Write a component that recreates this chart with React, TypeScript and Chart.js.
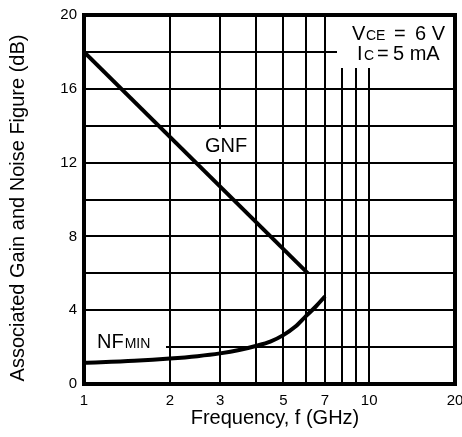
import React, { useEffect, useRef } from 'react';
import { Chart, registerables } from 'chart.js';

Chart.register(...registerables);

// ---- data ----
const gnfFreq = [1, 6.1];
const gnfGain = [18, 6];

const nfFreq = [1, 1.5, 2, 2.5, 3, 3.5, 4, 4.5, 5, 5.5, 6, 6.5, 7];
const nfMin = [1.15, 1.26, 1.38, 1.51, 1.66, 1.84, 2.06, 2.3, 2.65, 3.1, 3.68, 4.2, 4.75];

const xGridValues = [1, 2, 3, 4, 5, 6, 7, 8, 9, 10, 20];
const xTickLabels = [1, 2, 3, 5, 7, 10, 20];
const yGridValues = [0, 2, 4, 6, 8, 10, 12, 14, 16, 18, 20];
const yTickLabels = [0, 4, 8, 12, 16, 20];

const xTitle = 'Frequency, f (GHz)';
const yTitle = 'Associated Gain and Noise Figure (dB)';

const FONT = '"Liberation Sans", Arial, Helvetica, sans-serif';

const overlayPlugin = {
  id: 'overlay',
  beforeDatasetsDraw(chart: any) {
    const { ctx, chartArea: a } = chart;
    ctx.save();
    ctx.fillStyle = '#fff';
    // condition box (top right)
    ctx.fillRect(337, a.top + 2, a.right - 2 - 337, 68 - (a.top + 2));
    // GNF label box
    ctx.fillRect(200, 129, 52, 30);
    // NFmin label box
    ctx.fillRect(a.left + 2, 326, 166 - (a.left + 2), 31);

    ctx.fillStyle = '#000';
    ctx.textBaseline = 'alphabetic';
    ctx.textAlign = 'left';
    // VCE = 6 V
    ctx.font = `20px ${FONT}`;
    ctx.fillText('V', 352, 40);
    ctx.font = `14px ${FONT}`;
    ctx.fillText('CE', 366, 40);
    ctx.font = `20px ${FONT}`;
    ctx.fillText('=', 394, 40);
    ctx.fillText('6 V', 415, 40);
    // IC = 5 mA
    ctx.fillText('I', 357, 60);
    ctx.font = `14px ${FONT}`;
    ctx.fillText('C', 364, 60);
    ctx.font = `20px ${FONT}`;
    ctx.fillText('=', 377, 60);
    ctx.fillText('5 mA', 393, 60);

    // GNF label
    ctx.fillText('GNF', 205, 152);
    // NFmin label
    ctx.fillText('NF', 97, 348);
    const nfw = ctx.measureText('NF').width;
    ctx.font = `14px ${FONT}`;
    ctx.fillText('MIN', 97 + nfw + 1, 348);
    ctx.restore();
  },
  afterDatasetsDraw(chart: any) {
    const { ctx, chartArea: a } = chart;
    ctx.save();
    ctx.strokeStyle = '#000';
    ctx.lineWidth = 4;
    ctx.strokeRect(a.left, a.top, a.right - a.left, a.bottom - a.top);
    ctx.restore();
  },
  afterDraw(chart: any) {
    const { ctx } = chart;
    ctx.save();
    ctx.fillStyle = '#000';
    ctx.font = `20px ${FONT}`;
    ctx.textAlign = 'center';
    ctx.textBaseline = 'alphabetic';
    ctx.fillText(xTitle, 275, 424);
    ctx.translate(24, 208);
    ctx.rotate(-Math.PI / 2);
    ctx.fillText(yTitle, 0, 0);
    ctx.restore();
  },
};

export default function App() {
  const ref = useRef<HTMLCanvasElement | null>(null);

  useEffect(() => {
    if (!ref.current) return;
    const chart = new Chart(ref.current, {
      type: 'line',
      data: {
        datasets: [
          {
            label: 'GNF',
            data: gnfFreq.map((f, i) => ({ x: f, y: gnfGain[i] })),
            borderColor: '#000',
            borderWidth: 4,
            pointRadius: 0,
            fill: false,
          },
          {
            label: 'NFmin',
            data: nfFreq.map((f, i) => ({ x: f, y: nfMin[i] })),
            borderColor: '#000',
            borderWidth: 4,
            pointRadius: 0,
            cubicInterpolationMode: 'monotone',
            fill: false,
          },
        ],
      },
      options: {
        responsive: false,
        animation: false,
        devicePixelRatio: 1,
        layout: { padding: { left: 0, right: 7, top: 15, bottom: 0 } },
        plugins: { legend: { display: false }, tooltip: { enabled: false } },
        scales: {
          x: {
            type: 'logarithmic',
            min: 1,
            max: 20,
            afterBuildTicks: (s: any) => {
              s.ticks = xGridValues.map((v) => ({ value: v }));
            },
            afterFit: (s: any) => {
              s.height = 53;
              s.paddingLeft = 0;
              s.paddingRight = 0;
            },
            ticks: {
              autoSkip: false,
              maxRotation: 0,
              padding: 8,
              color: '#000',
              font: { family: FONT, size: 15 },
              callback: (v: any) => (xTickLabels.includes(Number(v)) ? String(v) : ''),
            },
            grid: { color: '#000', lineWidth: 2, drawTicks: false },
            border: { display: false },
          },
          y: {
            type: 'linear',
            min: 0,
            max: 20,
            afterBuildTicks: (s: any) => {
              s.ticks = yGridValues.map((v) => ({ value: v }));
            },
            afterFit: (s: any) => {
              s.width = 84;
              s.paddingTop = 0;
              s.paddingBottom = 0;
            },
            ticks: {
              padding: 7,
              color: '#000',
              font: { family: FONT, size: 15 },
              callback: (v: any) => (yTickLabels.includes(Number(v)) ? String(v) : ''),
            },
            grid: { color: '#000', lineWidth: 2, drawTicks: false },
            border: { display: false },
          },
        },
      },
      plugins: [overlayPlugin],
    } as any);
    return () => chart.destroy();
  }, []);

  return (
    <div style={{ position: 'absolute', left: 0, top: 0, width: 462, height: 437, background: '#fff' }}>
      <canvas ref={ref} width={462} height={437} style={{ display: 'block' }} />
    </div>
  );
}
